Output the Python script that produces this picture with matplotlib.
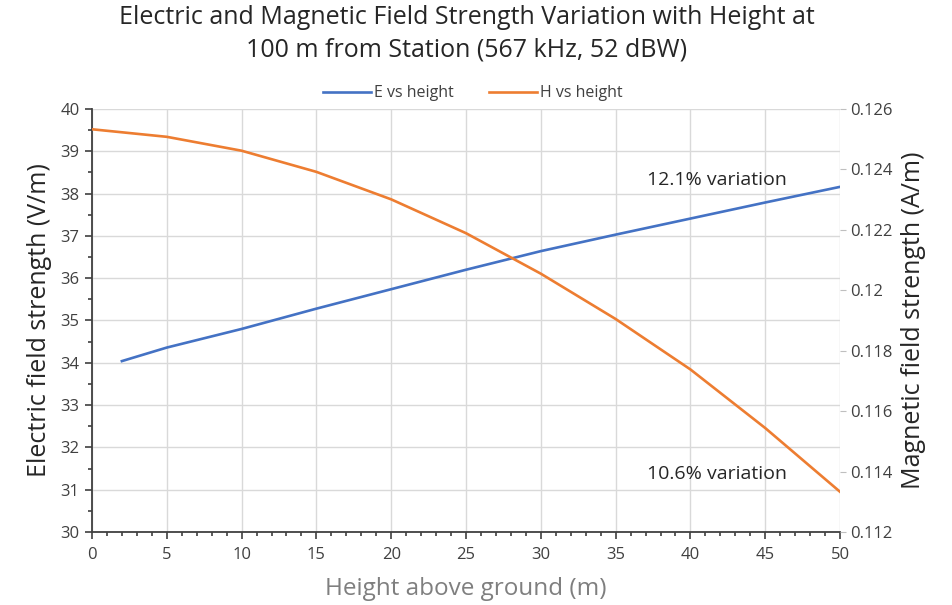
import matplotlib.pyplot as plt
from matplotlib.ticker import MultipleLocator

plt.rcParams['font.family'] = ['Open Sans', 'DejaVu Sans']

# values
e_height = [2, 5, 10, 15, 20, 25, 30, 35, 40, 45, 50]
e_field = [34.04, 34.36, 34.80, 35.28, 35.74, 36.20, 36.64, 37.03, 37.41, 37.79, 38.16]

h_height = [0, 5, 10, 15, 20, 25, 30, 35, 40, 45, 50]
h_field = [0.12533, 0.12508, 0.12462, 0.12392, 0.12301, 0.12189, 0.12055,
           0.11905, 0.11738, 0.11544, 0.11333]

e_note = "12.1% variation"
h_note = "10.6% variation"

blue = '#4472C4'
orange = '#ED7D31'
dark = '#404040'

fig = plt.figure(figsize=(9.52, 6.05), dpi=100)
ax = fig.add_axes([0.0966, 0.1207, 0.7858, 0.6991])
ax2 = ax.twinx()

l1, = ax.plot(e_height, e_field, color=blue, lw=1.9, label='E vs height')
l2, = ax2.plot(h_height, h_field, color=orange, lw=1.9, label='H vs height')

ax.set_xlim(0, 50)
ax.set_ylim(30, 40)
ax2.set_ylim(0.112, 0.126)

ax.xaxis.set_major_locator(MultipleLocator(5))
ax.xaxis.set_minor_locator(MultipleLocator(1))
ax.yaxis.set_major_locator(MultipleLocator(1))
ax.yaxis.set_minor_locator(MultipleLocator(0.5))
ax2.yaxis.set_major_locator(MultipleLocator(0.002))
ax2.yaxis.set_major_formatter(plt.FuncFormatter(lambda v, p: f'{v:.3f}'.rstrip('0')))

ax.grid(True, which='major', color='#D9D9D9', lw=1)
ax.set_axisbelow(True)

for s in ['top', 'right']:
    ax.spines[s].set_visible(False)
for s in ['top', 'right', 'left', 'bottom']:
    ax2.spines[s].set_visible(False)
ax.spines['left'].set_color(dark)
ax.spines['bottom'].set_color(dark)
ax.spines['left'].set_linewidth(1.3)
ax.spines['bottom'].set_linewidth(1.3)

ax.tick_params(which='major', direction='out', length=5, width=1.2, color=dark,
               labelsize=12, labelcolor='#404040', pad=4)
ax.tick_params(which='minor', direction='out', length=3, width=1.2, color=dark)
ax.tick_params(axis='x', pad=6)
ax2.tick_params(direction='out', length=4, width=0.8, color='#BFBFBF',
                labelsize=12, labelcolor='#404040')

ax.set_ylabel('Electric field strength (V/m)', fontsize=18, color='#262626', labelpad=6)
ax2.set_ylabel('Magnetic field strength (A/m)', fontsize=18, color='#262626', labelpad=6)
ax.set_xlabel('Height above ground (m)', fontsize=17.5, color='#7F7F7F', labelpad=10)

ax.text(41.8, 38.32, e_note, fontsize=14, color='#262626', ha='center', va='center')
ax.text(41.8, 31.37, h_note, fontsize=14, color='#262626', ha='center', va='center')

fig.suptitle('Electric and Magnetic Field Strength Variation with Height at\n'
             '100 m from Station (567 kHz, 52 dBW)',
             x=0.49, y=0.992, fontsize=18, color='#262626', linespacing=1.4)

fig.legend(handles=[l1, l2], loc='center', bbox_to_anchor=(0.497, 0.846), ncol=2,
           frameon=False, fontsize=11.5, labelcolor='#404040', handlelength=3.0,
           columnspacing=2.2, handletextpad=0.2)

fig.savefig('out.png', dpi=100)
